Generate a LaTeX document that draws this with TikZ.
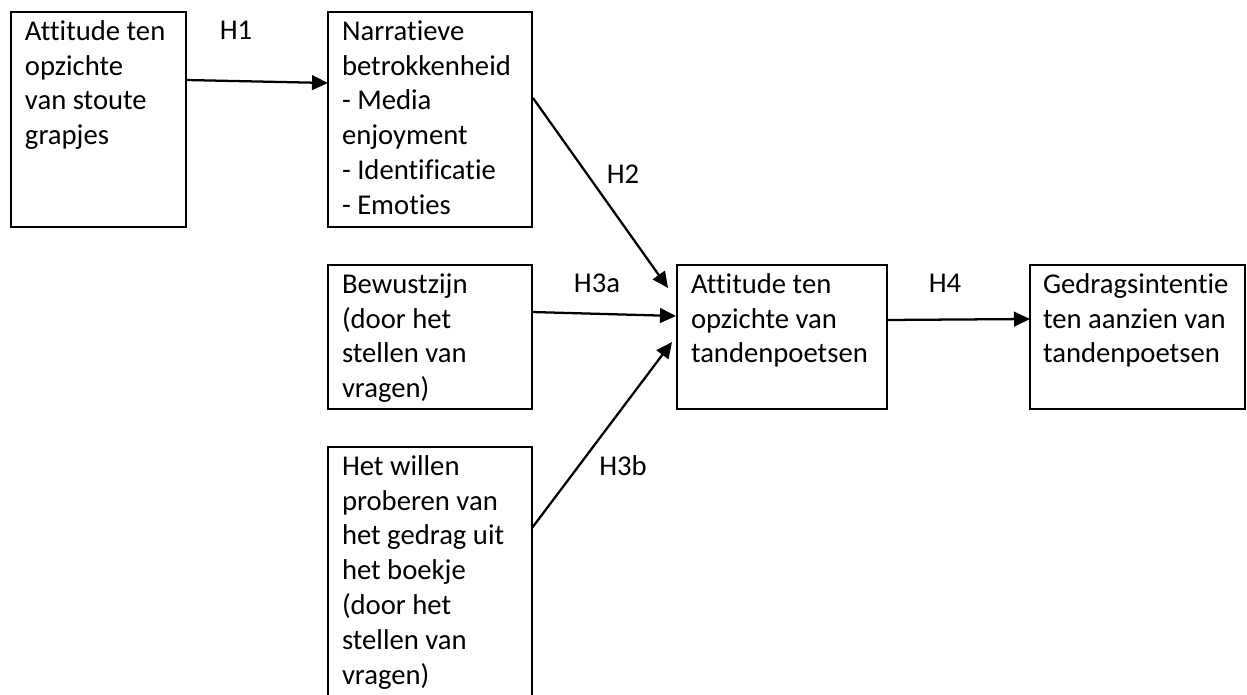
\documentclass[tikz,border=0pt]{standalone}
\usepackage{fontspec}
\setmainfont[Ligatures={NoCommon}]{Carlito}
\usetikzlibrary{arrows.meta}
\begin{document}
\begin{tikzpicture}[x=0.75pt,y=-0.75pt,
  box/.style={draw=black,line width=1.5pt,fill=none,inner sep=0pt,outer sep=0pt,anchor=north west},
  txt/.style={anchor=north west,inner sep=0pt,outer sep=0pt,align=left,font=\fontsize{21.5}{26.1}\selectfont},
  hlab/.style={anchor=base,inner sep=0pt,font=\fontsize{21.5}{26.1}\selectfont},
  arr/.style={line width=1.7pt,-{Triangle[length=12pt,width=11pt]}}]
\useasboundingbox[fill=white] (0,0) rectangle (1247,695);
% boxes
\node[box,minimum width=131.25pt,minimum height=161.25pt] (b1) at (11,12) {};
\node[box,minimum width=153pt,minimum height=161.25pt] (b2) at (328,12) {};
\node[box,minimum width=153pt,minimum height=108pt] (b3) at (328,265) {};
\node[box,minimum width=153pt,minimum height=210pt] (b4) at (328,447) {};
\node[box,minimum width=157.5pt,minimum height=108pt] (b5) at (677,265) {};
\node[box,minimum width=161.25pt,minimum height=108pt] (b6) at (1030,265) {};
% texts
\node[txt] (t1) at (25,16) {\strut Attitude ten\\opzichte\\van stoute\\grapjes};
\node[txt] (t2) at (342,16) {\strut Narratieve\\betrokkenheid\\- Media\\enjoyment\\- Identificatie\\- Emoties};
\node[txt] (t3) at (342,269) {\strut Bewustzijn\\(door het\\stellen van\\vragen)};
\node[txt] (t4) at (342,451) {\strut Het willen\\proberen van\\het gedrag uit\\het boekje\\(door het\\stellen van\\vragen)};
\node[txt] (t5) at (691,269) {\strut Attitude ten\\opzichte van\\tandenpoetsen};
\node[txt] (t6) at (1043,269) {\strut Gedragsintentie\\ten aanzien van\\tandenpoetsen};
% labels
\node[hlab] (h1) at (236,40) {H1};
\node[hlab] (h2) at (623,184) {H2};
\node[hlab] (h3a) at (597,293) {H3a};
\node[hlab] (h3b) at (623,475) {H3b};
\node[hlab] (h4) at (945,293) {H4};
% arrows
\draw[arr] ([shift={(0,68)}]b1.north east) -- ([shift={(0,71)}]b2.north west);
\draw[arr] ([shift={(1,86)}]b2.north east) -- ([shift={(-9,23)}]b5.north west);
\draw[arr] ([shift={(0,47)}]b3.north east) -- ([shift={(-1,51)}]b5.north west);
\draw[arr] ([shift={(0,81)}]b4.north east) -- ([shift={(-5,77)}]b5.north west);
\draw[arr] ([shift={(0,55)}]b5.north east) -- ([shift={(0,54)}]b6.north west);
\end{tikzpicture}
\end{document}
